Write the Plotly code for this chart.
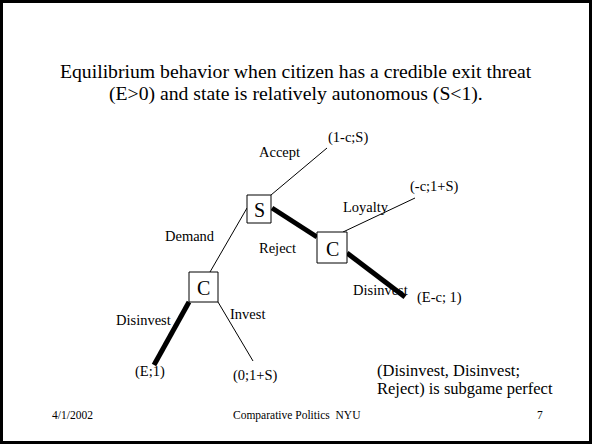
import plotly.graph_objects as go

W, H = 592, 444

# Decision nodes: label, x0, y0, x1, y1 (slide pixel coordinates)
node_labels = ["S", "C", "C"]
node_x0 = [247, 317, 189]
node_y0 = [195, 232, 272]
node_x1 = [271, 347, 218]
node_y1 = [223, 263, 302]

# Edges: start/end points and whether on equilibrium path
edge_names = ["Accept", "Demand", "Reject", "Loyalty", "Disinvest", "Disinvest", "Invest"]
edge_x0 = [271, 247, 272, 343, 347, 189, 218]
edge_y0 = [195, 208, 208, 232, 253, 302, 302]
edge_x1 = [327, 210, 317, 415, 405, 154, 253]
edge_y1 = [148, 272, 237, 198, 297, 365, 361]
edge_thick = [False, False, True, False, True, True, False]

# Text labels: text, x, y
label_text = ["Accept", "(1-c;S)", "Demand", "Reject", "Loyalty", "(-c;1+S)",
              "Disinvest", "(E-c; 1)", "Disinvest", "Invest", "(E;1)", "(0;1+S)"]
label_x = [279, 348, 190, 277, 366, 434, 380, 439, 143, 247, 150, 255]
label_y = [152, 137, 236, 248, 207, 186, 290, 297, 320, 314, 371, 375]

title_lines = ["Equilibrium behavior when citizen has a credible exit threat",
               "(E>0) and state is relatively autonomous (S<1)."]
conclusion = ["(Disinvest, Disinvest;", "Reject) is subgame perfect"]
footer = ["4/1/2002", "Comparative Politics  NYU", "7"]

FONT = "Liberation Serif"

fig = go.Figure()

for i in range(len(edge_names)):
    fig.add_trace(go.Scatter(
        x=[edge_x0[i], edge_x1[i]], y=[edge_y0[i], edge_y1[i]],
        mode="lines", line=dict(color="black", width=5 if edge_thick[i] else 1),
        hoverinfo="skip", showlegend=False))

shapes = []
annotations = []
for i, lab in enumerate(node_labels):
    shapes.append(dict(type="rect", xref="x", yref="y",
                       x0=node_x0[i], y0=node_y0[i], x1=node_x1[i], y1=node_y1[i],
                       line=dict(color="black", width=1), fillcolor="white", layer="above"))
    annotations.append(dict(x=(node_x0[i] + node_x1[i]) / 2, y=(node_y0[i] + node_y1[i]) / 2 + 1,
                            xref="x", yref="y", text=lab, showarrow=False,
                            font=dict(family=FONT, size=20, color="black")))

for t, x, y in zip(label_text, label_x, label_y):
    annotations.append(dict(x=x, y=y, xref="x", yref="y", text=t, showarrow=False,
                            font=dict(family=FONT, size=14.5, color="black")))

for i, t in enumerate(title_lines):
    annotations.append(dict(x=W / 2, y=71 + i * 22, xref="x", yref="y", text=t, showarrow=False,
                            font=dict(family=FONT, size=19.7, color="black")))

for i, t in enumerate(conclusion):
    annotations.append(dict(x=375, y=370 + i * 18, xref="x", yref="y", text=t, showarrow=False,
                            xanchor="left", font=dict(family=FONT, size=16.5, color="black")))

for x, t in zip([72, 297, 540], footer):
    annotations.append(dict(x=x, y=415, xref="x", yref="y", text=t, showarrow=False,
                            font=dict(family=FONT, size=11.5, color="black")))

# slide frame
shapes.append(dict(type="rect", xref="x", yref="y", x0=1.5, y0=1.5, x1=W - 1.5, y1=H - 1.5,
                   line=dict(color="black", width=3), layer="above"))

fig.update_layout(
    width=W, height=H, margin=dict(l=0, r=0, t=0, b=0),
    paper_bgcolor="white", plot_bgcolor="white",
    xaxis=dict(range=[0, W], visible=False, fixedrange=True),
    yaxis=dict(range=[H, 0], visible=False, fixedrange=True),
    shapes=shapes, annotations=annotations)

fig.write_html("out.html", config={"displayModeBar": False},
               post_script="document.body.style.margin='0';document.body.style.overflow='hidden';")
